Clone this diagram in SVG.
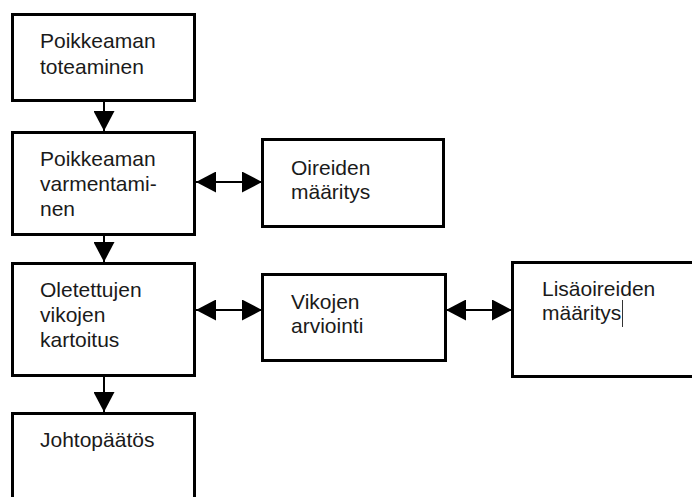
<svg xmlns="http://www.w3.org/2000/svg" width="692" height="497" viewBox="0 0 692 497">
<style>
.box{fill:#fff;stroke:#000;stroke-width:3}
.t{font-family:"Liberation Sans",Arial,sans-serif;font-size:21px;fill:#1a1a1a}
.c{stroke:#000;stroke-width:2;fill:none}
</style>
<defs>
<marker id="ah" markerUnits="userSpaceOnUse" markerWidth="20" markerHeight="21" refX="20" refY="10.5" orient="auto-start-reverse" viewBox="0 0 20 21">
<path d="M0,0 L20,10.5 L0,21 Z" fill="#000"/>
</marker>
</defs>
<rect width="692" height="497" fill="#fff"/>
<g id="n1"><rect class="box" x="12.5" y="14.5" width="182" height="86"/>
<text class="t" x="40" y="48">Poikkeaman</text><text class="t" x="40" y="74">toteaminen</text></g>
<g id="n2"><rect class="box" x="12.5" y="132.5" width="182" height="102"/>
<text class="t" x="40" y="166">Poikkeaman</text><text class="t" x="40" y="191">varmentami-</text><text class="t" x="40" y="216">nen</text></g>
<g id="n3"><rect class="box" x="12.5" y="263.5" width="182" height="112"/>
<text class="t" x="40" y="297">Oletettujen</text><text class="t" x="40" y="322">vikojen</text><text class="t" x="40" y="347">kartoitus</text></g>
<g id="n4"><rect class="box" x="12.5" y="413.5" width="182" height="100"/>
<text class="t" x="40" y="447">Johtopäätös</text></g>
<g id="n5"><rect class="box" x="262.5" y="139.5" width="181" height="87"/>
<text class="t" x="291" y="175">Oireiden</text><text class="t" x="291" y="199">määritys</text></g>
<g id="n6"><rect class="box" x="262.5" y="274.5" width="183" height="86"/>
<text class="t" x="291" y="309">Vikojen</text><text class="t" x="291" y="333">arviointi</text></g>
<g id="n7"><rect class="box" x="512.5" y="262.5" width="190" height="114"/>
<text class="t" x="542" y="296">Lisäoireiden</text><text class="t" x="542" y="320">määritys</text>
<line x1="622.5" y1="300" x2="622.5" y2="327" stroke="#333" stroke-width="1"/></g>
<g id="connectors">
<line class="c" x1="104" y1="101" x2="104" y2="131" marker-end="url(#ah)"/>
<line class="c" x1="104" y1="235" x2="104" y2="262" marker-end="url(#ah)"/>
<line class="c" x1="104" y1="376" x2="104" y2="412" marker-end="url(#ah)"/>
<line class="c" x1="196" y1="182" x2="262" y2="182" marker-start="url(#ah)" marker-end="url(#ah)"/>
<line class="c" x1="196" y1="310" x2="262" y2="310" marker-start="url(#ah)" marker-end="url(#ah)"/>
<line class="c" x1="446" y1="310" x2="512" y2="310" marker-start="url(#ah)" marker-end="url(#ah)"/>
</g>
</svg>
